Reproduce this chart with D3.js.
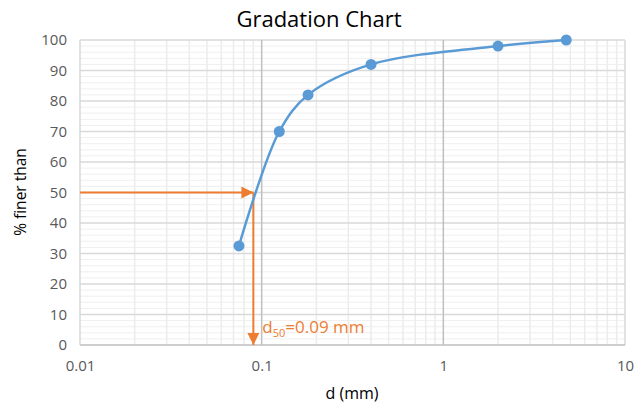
<!DOCTYPE html>
<html><head><meta charset="utf-8">
<script src="https://cdn.jsdelivr.net/npm/d3@7"></script>
<style>
html,body{margin:0;padding:0;background:#fff;}
svg{display:block;font-family:"Open Sans",sans-serif;}
</style></head>
<body><svg id="chart" width="644" height="406"></svg>
<script>
// Data
const sizes = [0.075, 0.125, 0.18, 0.4, 2, 4.75];
const percentFiner = [32.5, 70, 82, 92, 98, 100];
const xTicks = [0.01, 0.1, 1, 10];
const yTicks = [0, 10, 20, 30, 40, 50, 60, 70, 80, 90, 100];
const d50Value = 0.09;
const d50Percent = 50;
const titleText = "Gradation Chart";
const xTitle = "d (mm)";
const yTitle = "% finer than";

const svg = d3.select("#chart");
const m = {left: 80, right: 19, top: 40, bottom: 61};
const W = 644, H = 406;
const x = d3.scaleLog().domain([0.01, 10]).range([m.left, W - m.right]);
const y = d3.scaleLinear().domain([0, 100]).range([H - m.bottom, m.top]);

const g = svg.append("g");
// minor horizontal grid every 2
const yMinor = d3.range(0, 101, 2).filter(v => v % 10 !== 0);
g.selectAll(".hmin").data(yMinor).join("line")
  .attr("x1", x.range()[0]).attr("x2", x.range()[1])
  .attr("y1", d => y(d)).attr("y2", d => y(d))
  .attr("stroke", "#efefef").attr("stroke-width", 1);
// minor vertical grid
const xMinor = [];
[0.01, 0.1, 1].forEach(b => { for (let k = 2; k <= 9; k++) xMinor.push(b * k); });
g.selectAll(".vmin").data(xMinor).join("line")
  .attr("x1", d => x(d)).attr("x2", d => x(d))
  .attr("y1", y(0)).attr("y2", y(100))
  .attr("stroke", "#ececec").attr("stroke-width", 1.5);
// major horizontal
g.selectAll(".hmaj").data(yTicks.filter(v => v > 0)).join("line")
  .attr("x1", x.range()[0]).attr("x2", x.range()[1])
  .attr("y1", d => y(d)).attr("y2", d => y(d))
  .attr("stroke", "#d9d9d9").attr("stroke-width", 1.5);
// major vertical
g.selectAll(".vmaj").data(xTicks).join("line")
  .attr("x1", d => x(d)).attr("x2", d => x(d))
  .attr("y1", y(0)).attr("y2", y(100))
  .attr("stroke", d => (d === 0.01 || d === 10) ? "#d9d9d9" : "#bfbfbf").attr("stroke-width", 1.5);
// bottom axis line
g.append("line").attr("x1", x.range()[0]).attr("x2", x.range()[1])
  .attr("y1", y(0)).attr("y2", y(0)).attr("stroke", "#bfbfbf").attr("stroke-width", 1.5);

// axes labels via d3 axes
const xAxis = d3.axisBottom(x).tickValues(xTicks).tickFormat(d => String(d)).tickSize(0).tickPadding(15);
const gx = svg.append("g").attr("transform", `translate(0,${y(0)})`).call(xAxis);
gx.select(".domain").remove();
gx.selectAll("text").attr("font-size", 15).attr("fill", "#595959").attr("font-family", "'Open Sans',sans-serif");

const yAxis = d3.axisLeft(y).tickValues(yTicks).tickSize(0).tickPadding(13);
const gy = svg.append("g").attr("transform", `translate(${m.left},0)`).call(yAxis);
gy.select(".domain").remove();
gy.selectAll("text").attr("font-size", 15).attr("fill", "#595959").attr("font-family", "'Open Sans',sans-serif");

// title
svg.append("text").attr("x", 319).attr("y", 27).attr("text-anchor", "middle")
  .attr("font-size", 22).attr("fill", "#000").text(titleText);
svg.append("text").attr("x", 352).attr("y", 399).attr("text-anchor", "middle")
  .attr("font-size", 16).attr("fill", "#000").text(xTitle);
svg.append("text").attr("transform", "translate(26,192) rotate(-90)").attr("text-anchor", "middle")
  .attr("font-size", 15.5).attr("fill", "#000").text(yTitle);

// arrows
const orange = "#ed7d31";
const defs = svg.append("defs");
defs.append("marker").attr("id", "arr").attr("viewBox", "0 0 10 10")
  .attr("refX", 10).attr("refY", 5).attr("markerWidth", 6).attr("markerHeight", 6)
  .attr("markerUnits", "strokeWidth").attr("orient", "auto")
  .append("path").attr("d", "M0,0 L10,5 L0,10 Z").attr("fill", orange);
svg.append("line").attr("x1", x(0.01)).attr("y1", y(d50Percent))
  .attr("x2", x(d50Value)).attr("y2", y(d50Percent))
  .attr("stroke", orange).attr("stroke-width", 2).attr("marker-end", "url(#arr)");
svg.append("line").attr("x1", x(d50Value)).attr("y1", y(d50Percent))
  .attr("x2", x(d50Value)).attr("y2", y(0))
  .attr("stroke", orange).attr("stroke-width", 2).attr("marker-end", "url(#arr)");

// curve
const pts = sizes.map((s, i) => [s, percentFiner[i]]);
const line = d3.line().x(d => x(d[0])).y(d => y(d[1])).curve(d3.curveCatmullRom.alpha(0.5));
svg.append("path").datum(pts).attr("d", line).attr("fill", "none")
  .attr("stroke", "#5b9bd5").attr("stroke-width", 2.5).attr("stroke-linecap", "round");
svg.selectAll(".pt").data(pts).join("circle")
  .attr("cx", d => x(d[0])).attr("cy", d => y(d[1])).attr("r", 5.5)
  .attr("fill", "#5b9bd5");

// label
const lbl = svg.append("text").attr("x", x(d50Value) + 9).attr("y", y(0) - 12)
  .attr("font-size", 17).attr("fill", orange);
lbl.append("tspan").text("d");
lbl.append("tspan").attr("font-size", 11).attr("dy", 4).text("50");
lbl.append("tspan").attr("dy", -4).text("=" + d50Value + " mm");
</script></body></html>
